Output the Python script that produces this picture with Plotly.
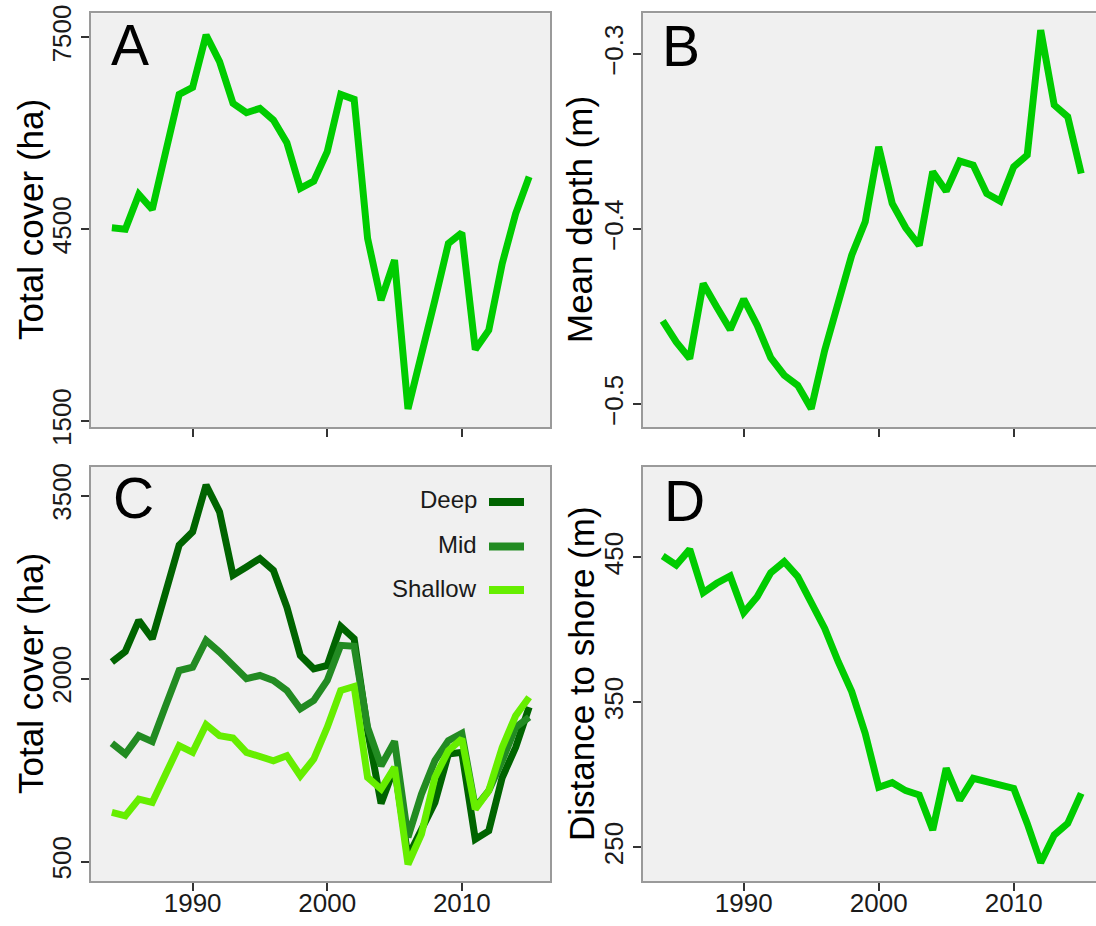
import plotly.graph_objects as go

# ---- data -------------------------------------------------------------
years = [1984, 1985, 1986, 1987, 1988, 1989, 1990, 1991, 1992, 1993, 1994,
         1995, 1996, 1997, 1998, 1999, 2000, 2001, 2002, 2003, 2004, 2005,
         2006, 2007, 2008, 2009, 2010, 2011, 2012, 2013, 2014, 2015]

total_cover = [4521, 4500, 5043, 4808, 5711, 6608, 6717, 7537, 7119, 6467,
               6321, 6389, 6206, 5851, 5137, 5251, 5711, 6608, 6530, 4354,
               3389, 4015, 1690, 2502, 3389, 4276, 4443, 2617, 2920, 3963,
               4745, 5319]

mean_depth = [-0.4524, -0.4644, -0.4739, -0.4311, -0.4444, -0.4574, -0.4400,
              -0.4549, -0.4734, -0.4834, -0.4892, -0.5025, -0.4692, -0.4406,
              -0.4149, -0.3958, -0.3530, -0.3853, -0.3992, -0.4092, -0.3672,
              -0.3783, -0.3611, -0.3634, -0.3796, -0.3840, -0.3644, -0.3577,
              -0.2863, -0.3291, -0.3358, -0.3682]

cover_deep = [2136, 2223, 2478, 2327, 2711, 3095, 3204, 3588, 3368, 2848,
              2916, 2985, 2889, 2588, 2190, 2081, 2108, 2429, 2328, 1574,
              977, 1273, 540, 760, 985, 1382, 1396, 684, 752, 1190, 1437, 1766]

cover_mid = [1470, 1382, 1533, 1484, 1779, 2067, 2094, 2314, 2218, 2108,
             2000, 2026, 1985, 1903, 1752, 1821, 1985, 2273, 2265, 1601,
             1286, 1486, 700, 1053, 1328, 1492, 1552, 944, 1081, 1328, 1602,
             1684]

cover_shallow = [903, 875, 1012, 985, 1218, 1451, 1396, 1623, 1533, 1514,
                 1396, 1360, 1327, 1368, 1204, 1341, 1601, 1903, 1936, 1190,
                 1095, 1273, 478, 725, 1190, 1410, 1506, 930, 1081, 1437,
                 1697, 1848]

dist_shore = [450.9, 444.7, 455.5, 425.6, 432.1, 437.1, 411.8, 422.9, 439.4,
              447.0, 436.7, 419.4, 401.0, 378.0, 357.4, 328.6, 291.4, 294.6,
              289.1, 286.1, 261.9, 304.5, 282.6, 297.6, 295.3, 293.0, 290.7,
              266.5, 239.4, 258.5, 266.5, 287.2]

depth_names = ["Deep", "Mid", "Shallow"]
depth_colors = ["#006400", "#228B22", "#66EE00"]
x_ticks = [1990, 2000, 2010]

# ---- layout helpers ---------------------------------------------------
W, H = 1096, 926
FONT = "Liberation Sans, Arial, sans-serif"
LINE_GREEN = "#00CC00"
LW = 7


def fx(px):
    return px / W


def fy(py):
    return 1 - py / H


fig = go.Figure()

fig.add_trace(go.Scatter(x=years, y=total_cover, mode="lines",
                         line=dict(color=LINE_GREEN, width=LW),
                         xaxis="x", yaxis="y"))
fig.add_trace(go.Scatter(x=years, y=mean_depth, mode="lines",
                         line=dict(color=LINE_GREEN, width=LW),
                         xaxis="x2", yaxis="y2"))
for name, vals, col in zip(depth_names,
                           [cover_deep, cover_mid, cover_shallow],
                           depth_colors):
    fig.add_trace(go.Scatter(x=years, y=vals, mode="lines", name=name,
                             line=dict(color=col, width=LW),
                             xaxis="x3", yaxis="y3"))
fig.add_trace(go.Scatter(x=years, y=dist_shore, mode="lines",
                         line=dict(color=LINE_GREEN, width=LW),
                         xaxis="x4", yaxis="y4"))

tick_font = dict(family=FONT, size=26, color="#1a1a1a")
border = dict(showline=True, linecolor="#9a9a9a", linewidth=1.5,
              showgrid=False, zeroline=False, ticks="outside",
              ticklen=8, tickwidth=2, tickcolor="#333333",
              tickfont=tick_font, automargin=False)

left_dom = [fx(91), fx(550)]
right_dom = [fx(643), 1.0]
top_dom = [fy(427), fy(13.3)]
bot_dom = [fy(881), fy(466.7)]

x_left_rng = [1982.45, 2016.55]
x_right_rng = [1982.54, 1982.54 + (W - 643) / 13.5]


def xax(dom, rng, labels, anchor):
    return dict(domain=dom, range=rng, tickvals=x_ticks, mirror=True,
                showticklabels=labels, anchor=anchor, ticklabelstandoff=-10,
                **border)


def yax(dom, rng, vals, text, anchor, mirror):
    return dict(domain=dom, range=rng, tickvals=vals, ticktext=text,
                tickangle=-90, mirror=mirror, anchor=anchor, **border)


fig.update_layout(
    template="none",
    width=W, height=H,
    margin=dict(l=0, r=0, t=0, b=0, pad=0),
    paper_bgcolor="white", plot_bgcolor="#F0F0F0",
    showlegend=False,
    font=dict(family=FONT),
    xaxis=xax(left_dom, x_left_rng, False, "y"),
    yaxis=yax(top_dom, [1406, 7876], [1500, 4500, 7500],
              ["1500", "4500", "7500"], "x", True),
    xaxis2=xax(right_dom, x_right_rng, False, "y2"),
    yaxis2=yax(top_dom, [-0.513, -0.2767], [-0.5, -0.4, -0.3],
               ["\u22120.5", "\u22120.4", "\u22120.3"], "x2", False),
    xaxis3=xax(left_dom, x_left_rng, True, "y3"),
    yaxis3=yax(bot_dom, [341, 3738], [500, 2000, 3500],
               ["500", "2000", "3500"], "x3", True),
    xaxis4=xax(right_dom, x_right_rng, True, "y4"),
    yaxis4=yax(bot_dom, [226.8, 512.5], [250, 350, 450],
               ["250", "350", "450"], "x4", False),
)

annotations = []

# axis titles
for text, px, py in [("Total cover (ha)", 30, 220),
                     ("Mean depth (m)", 579, 220),
                     ("Total cover (ha)", 30, 674),
                     ("Distance to shore (m)", 581, 674)]:
    annotations.append(dict(text=text, x=fx(px), y=fy(py), xref="paper",
                            yref="paper", textangle=-90, showarrow=False,
                            xanchor="center", yanchor="middle",
                            font=dict(family=FONT, size=35, color="black")))

# panel letters
for text, px, py in [("A", 129.5, 45), ("B", 681, 46),
                     ("C", 133, 498), ("D", 684, 501)]:
    annotations.append(dict(text=text, x=fx(px), y=fy(py), xref="paper",
                            yref="paper", showarrow=False,
                            xanchor="center", yanchor="middle",
                            font=dict(family=FONT, size=57, color="black")))

# legend for the depth classes
shapes = []
for name, col, py in zip(depth_names, depth_colors, [502, 546.5, 590]):
    annotations.append(dict(text=name, x=fx(479), y=fy(py - 2), xref="paper",
                            yref="paper", showarrow=False,
                            xanchor="right", yanchor="middle",
                            font=dict(family=FONT, size=24, color="#1a1a1a")))
    shapes.append(dict(type="line", xref="paper", yref="paper",
                       x0=fx(489), x1=fx(524), y0=fy(py), y1=fy(py),
                       line=dict(color=col, width=8)))

fig.update_layout(annotations=annotations, shapes=shapes)

fig.write_html("out.html")
